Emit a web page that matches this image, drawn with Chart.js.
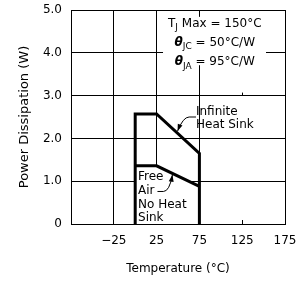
<!DOCTYPE html>
<html><head><meta charset="utf-8">
<script src="https://cdn.jsdelivr.net/npm/chart.js@4"></script>
<style>html,body{margin:0;padding:0;background:#fff}</style>
</head><body>
<canvas id="c" width="298" height="283"></canvas>
<script>
// ---- data ----
const infiniteTemps = [0, 0, 25, 75, 75];
const infinitePower = [0, 2.57, 2.57, 1.65, 0];
const freeAirTemps = [0, 25, 75];
const freeAirPower = [1.36, 1.36, 0.88];
const xTickLabels = ['', '\u221225', '25', '75', '125', '175'];
const yTickLabels = ['0', '1.0', '2.0', '3.0', '4.0', '5.0'];
const infiniteLabel = ['Infinite', 'Heat Sink'];
const freeAirLabel = ['Free', 'Air', 'No Heat', 'Sink'];
const xTitle = 'Temperature (\u00B0C)';
const yTitle = 'Power Dissipation (W)';

const FONT = 'DejaVu Sans';
const N = '12px "' + FONT + '"', S = '9px "' + FONT + '"', TH = 'italic bold 12px "' + FONT + '"';
const toPts = (xs, ys) => xs.map((v, i) => ({x: v, y: ys[i]}));

function leader(chart, p0, p1, c, tip) {
  const {ctx} = chart;
  const X = v => chart.scales.x.getPixelForValue(v);
  const Y = v => chart.scales.y.getPixelForValue(v);
  ctx.beginPath();
  ctx.moveTo(X(p0[0]), Y(p0[1]));
  ctx.lineTo(X(p1[0]), Y(p1[1]));
  ctx.quadraticCurveTo(X(c[0]), Y(c[1]), X(tip[0]), Y(tip[1]));
  ctx.lineWidth = 1; ctx.strokeStyle = '#000'; ctx.stroke();
  const ang = Math.atan2(Y(tip[1]) - Y(c[1]), X(tip[0]) - X(c[0]));
  const tx = X(tip[0]), ty = Y(tip[1]);
  ctx.beginPath();
  ctx.moveTo(tx, ty);
  ctx.lineTo(tx - 7 * Math.cos(ang) + 2.5 * Math.sin(ang), ty - 7 * Math.sin(ang) - 2.5 * Math.cos(ang));
  ctx.lineTo(tx - 7 * Math.cos(ang) - 2.5 * Math.sin(ang), ty - 7 * Math.sin(ang) + 2.5 * Math.cos(ang));
  ctx.closePath(); ctx.fillStyle = '#000'; ctx.fill();
}

const annot = {
  id: 'annot',
  beforeDatasetsDraw(chart) {
    const {ctx} = chart;
    const X = v => chart.scales.x.getPixelForValue(v);
    const Y = v => chart.scales.y.getPixelForValue(v);
    ctx.save();
    ctx.strokeStyle = '#000'; ctx.lineWidth = 1;
    const x125 = Math.round(X(125)) + 0.5;
    ctx.beginPath();
    ctx.moveTo(x125, Y(0)); ctx.lineTo(x125, Y(0) - 4);
    ctx.moveTo(x125, Y(3)); ctx.lineTo(x125, Y(3) - 3);
    ctx.stroke();
    ctx.fillStyle = '#fff';
    ctx.fillRect(X(32.5), Y(4.84), X(152.8) - X(32.5), Y(3.71) - Y(4.84));
    ctx.fillStyle = '#000';
    ctx.textBaseline = 'middle';
    const cx = X(93);
    const rich = (segs, cy) => {
      let w = 0;
      segs.forEach(s => { ctx.font = s.f; w += ctx.measureText(s.t).width; });
      let xx = cx - w / 2;
      segs.forEach(s => {
        ctx.font = s.f; ctx.textAlign = 'left';
        ctx.fillText(s.t, xx, cy + (s.dy || 0));
        xx += ctx.measureText(s.t).width;
      });
    };
    rich([{t: 'T', f: N}, {t: 'J', f: S, dy: 4}, {t: ' Max = 150\u00B0C', f: N}], Y(4.68));
    rich([{t: '\u03B8', f: TH}, {t: 'JC', f: S, dy: 4}, {t: ' = 50\u00B0C/W', f: N}], Y(4.24));
    rich([{t: '\u03B8', f: TH}, {t: 'JA', f: S, dy: 4}, {t: ' = 95\u00B0C/W', f: N}], Y(3.78));
    ctx.font = N; ctx.textAlign = 'left';
    const infY = [2.62, 2.31];
    infiniteLabel.forEach((t, i) => ctx.fillText(t, X(71), Y(infY[i])));
    leader(chart, [71, 2.50], [63, 2.50], [56, 2.50], [49.5, 2.17]);
    ctx.restore();
  },
  afterDatasetsDraw(chart) {
    const {ctx} = chart;
    const X = v => chart.scales.x.getPixelForValue(v);
    const Y = v => chart.scales.y.getPixelForValue(v);
    ctx.save();
    ctx.fillStyle = '#000'; ctx.font = N; ctx.textAlign = 'left'; ctx.textBaseline = 'middle';
    const faY = [1.10, 0.77, 0.45, 0.14];
    freeAirLabel.forEach((t, i) => ctx.fillText(t, X(3.3), Y(faY[i])));
    leader(chart, [26, 0.76], [33, 0.76], [40, 0.76], [43.5, 1.15]);
    ctx.restore();
  }
};

const noPad = s => { s.paddingLeft = 0; s.paddingRight = 0; s.paddingTop = 0; s.paddingBottom = 0; };

new Chart(document.getElementById('c'), {
  type: 'scatter',
  data: {
    datasets: [
      {data: toPts(infiniteTemps, infinitePower), showLine: true, borderColor: '#000', borderWidth: 3,
       pointRadius: 0, borderJoinStyle: 'miter', fill: false},
      {data: toPts(freeAirTemps, freeAirPower), showLine: true, borderColor: '#000', borderWidth: 3,
       pointRadius: 0, borderJoinStyle: 'miter', fill: 'origin', backgroundColor: '#fff'}
    ]
  },
  options: {
    responsive: false, animation: false, devicePixelRatio: 1,
    layout: {padding: {top: 10, right: 13, left: 0, bottom: 0}},
    plugins: {legend: {display: false}, tooltip: {enabled: false}},
    scales: {
      x: {
        type: 'linear', min: -75, max: 175,
        ticks: {stepSize: 50, padding: 10, color: '#000', font: {family: FONT, size: 12}, maxRotation: 0,
                autoSkip: false, callback: (v, i) => xTickLabels[i]},
        grid: {color: c => (c.tick && c.tick.value === 125) ? 'rgba(0,0,0,0)' : '#000', lineWidth: 1, drawTicks: false},
        border: {display: true, color: '#000', width: 1},
        title: {display: true, text: xTitle, color: '#000', font: {family: FONT, size: 12}, padding: {top: 0, bottom: 7}},
        afterFit(s) { s.height = 59; noPad(s); }
      },
      y: {
        type: 'linear', min: 0, max: 5,
        ticks: {stepSize: 1, padding: 9, color: '#000', font: {family: FONT, size: 12}, callback: (v, i) => yTickLabels[i]},
        grid: {color: '#000', lineWidth: 1, drawTicks: false},
        border: {display: true, color: '#000', width: 1},
        title: {display: true, text: yTitle, color: '#000', font: {family: FONT, size: 13}, padding: {top: 17, bottom: 0}},
        afterFit(s) { s.width = 71; noPad(s); }
      }
    }
  },
  plugins: [annot]
});
</script>
</body></html>
